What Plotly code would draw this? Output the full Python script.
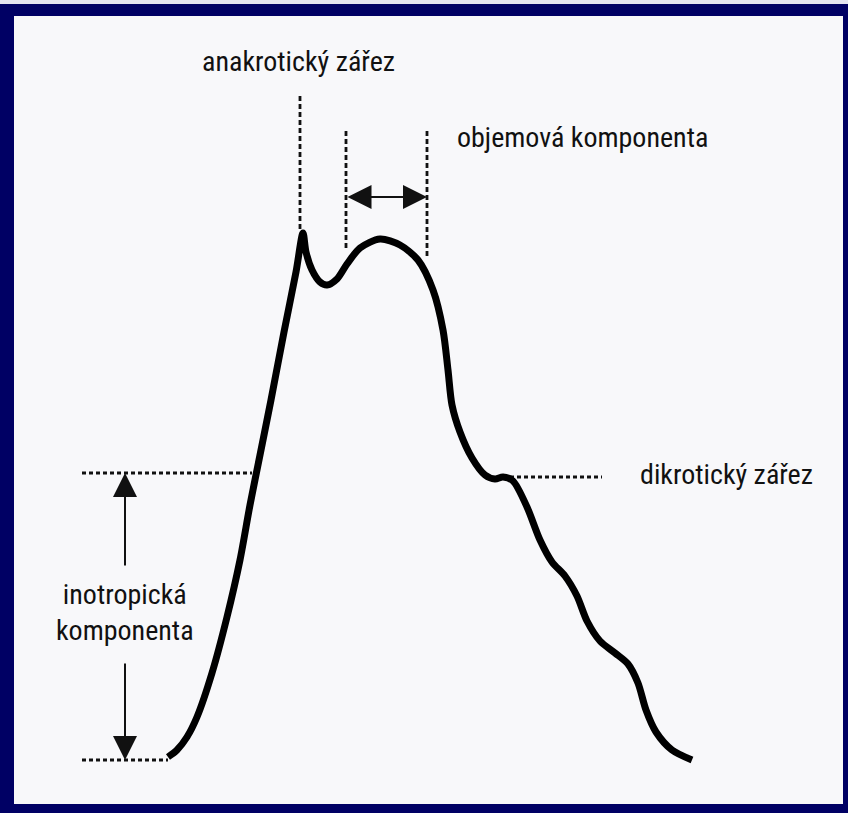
import plotly.graph_objects as go

# Pulse waveform (x = time in px units, y = pressure in px units, y grows downward)
curve_t = [168, 177, 187, 197, 212, 227, 240, 250, 260, 271, 284, 296, 303,
           306, 312, 320, 327, 337, 347, 360, 380, 400, 418, 433, 443, 448, 452, 460,
           472, 485, 495, 503, 513, 527, 540, 552, 565, 577, 587, 600, 615, 628,
           638, 646, 656, 672, 692]
curve_p = [757, 750, 737, 717, 673, 617, 560, 505, 455, 400, 332, 272, 233,
           252, 270, 282, 285, 279, 264, 248, 239, 245, 260, 290, 330, 370, 405, 432,
           458, 475, 479, 477, 481, 507, 540, 562, 576, 596, 621, 641, 653, 664,
           683, 710, 732, 750, 760]

# Annotation labels and their anchor positions
labels = ["anakrotický zářez", "objemová komponenta", "dikrotický zářez",
          "inotropická<br>komponenta"]
label_x = [298, 582, 726, 125]
label_y = [61, 137, 474, 612]

# Reference guide lines
anacrotic_x, anacrotic_top, anacrotic_bottom = 300, 96, 232
volume_left_x, volume_right_x = 346, 427
volume_top, volume_left_bottom, volume_right_bottom = 131, 250, 257
volume_arrow_y = 197
dicrotic_y, dicrotic_x0, dicrotic_x1 = 477, 510, 602
inotropic_top_y, inotropic_bottom_y = 473, 760
inotropic_x0, inotropic_top_x1, inotropic_bottom_x1 = 82, 252, 168
inotropic_arrow_x = 125
inotropic_arrow_up_tail, inotropic_arrow_down_tail = 567, 662

FONT = "Roboto Condensed, Liberation Sans Narrow, Arial Narrow, sans-serif"
INK = "#111111"

fig = go.Figure()

def dashed(xs, ys, dash="5px,3px", width=2.8):
    fig.add_trace(go.Scatter(x=xs, y=ys, mode="lines",
                             line=dict(color=INK, width=width, dash=dash),
                             hoverinfo="skip", showlegend=False))

# vertical dashed lines
dashed([anacrotic_x, anacrotic_x], [anacrotic_top, anacrotic_bottom])
dashed([volume_left_x, volume_left_x], [volume_top, volume_left_bottom])
dashed([volume_right_x, volume_right_x], [volume_top, volume_right_bottom])
# horizontal dotted lines
dashed([dicrotic_x0, dicrotic_x1], [dicrotic_y, dicrotic_y], dash="4px,3px")
dashed([inotropic_x0, inotropic_top_x1], [inotropic_top_y, inotropic_top_y], dash="4px,3px")
dashed([inotropic_x0, inotropic_bottom_x1], [inotropic_bottom_y, inotropic_bottom_y], dash="4px,3px")

# the waveform
fig.add_trace(go.Scatter(x=curve_t, y=curve_p, mode="lines",
                         line=dict(color="#000000", width=7, shape="spline", smoothing=0.8),
                         hoverinfo="skip", showlegend=False))

# text labels
for txt, x, y in zip(labels, label_x, label_y):
    fig.add_annotation(x=x, y=y, text=txt, showarrow=False,
                       font=dict(family=FONT, size=28, color=INK),
                       xanchor="center", yanchor="middle")

# double arrow (volume component)
fig.add_annotation(x=volume_right_x, y=volume_arrow_y, ax=volume_left_x, ay=volume_arrow_y,
                   xref="x", yref="y", axref="x", ayref="y", text="",
                   showarrow=True, arrowhead=2, startarrowhead=2, arrowside="end+start",
                   arrowsize=2.4, startarrowsize=2.4, arrowwidth=2, arrowcolor=INK,
                   standoff=0, startstandoff=0)
# inotropic arrows
fig.add_annotation(x=inotropic_arrow_x, y=inotropic_top_y, ax=inotropic_arrow_x, ay=inotropic_arrow_up_tail,
                   xref="x", yref="y", axref="x", ayref="y", text="",
                   showarrow=True, arrowhead=2, arrowsize=2.4, arrowwidth=2, arrowcolor=INK, standoff=0)
fig.add_annotation(x=inotropic_arrow_x, y=inotropic_bottom_y, ax=inotropic_arrow_x, ay=inotropic_arrow_down_tail,
                   xref="x", yref="y", axref="x", ayref="y", text="",
                   showarrow=True, arrowhead=2, arrowsize=2.4, arrowwidth=2, arrowcolor=INK, standoff=0)

# thin light strip at the very top (above the navy frame)
fig.add_shape(type="rect", xref="paper", yref="paper", x0=-0.02, x1=1.01,
              y0=1 + 12 / 788, y1=1 + 17 / 788, fillcolor="#e4e4f0", line_width=0, layer="above")

fig.update_layout(
    width=848, height=813,
    margin=dict(l=14, r=5, t=16, b=9, pad=0),
    paper_bgcolor="#000064",
    plot_bgcolor="#f8f8fa",
    xaxis=dict(range=[14, 843], visible=False, fixedrange=True),
    yaxis=dict(range=[804, 16], visible=False, fixedrange=True),
    showlegend=False,
)

fig.write_html("out.html", config={"displayModeBar": False},
               post_script="document.body.style.margin='0';document.body.style.overflow='hidden';")
